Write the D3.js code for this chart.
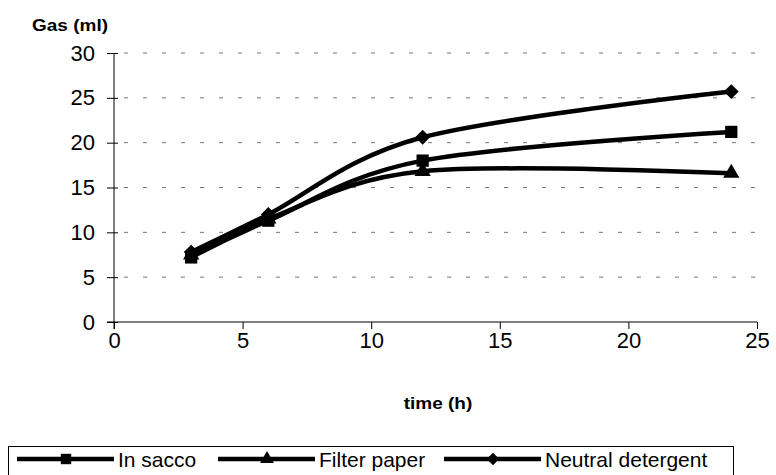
<!DOCTYPE html>
<html>
<head>
<meta charset="utf-8">
<script src="https://cdn.jsdelivr.net/npm/d3@7"></script>
<style>
  body { margin: 0; background: #fff; }
  svg { display: block; font-family: "Liberation Sans", Arial, sans-serif; }
</style>
</head>
<body>
<div id="graf"></div>
<script>
// Datos
const horas = [3, 6, 12, 24]
const inSacco = [7.2, 11.3, 18.0, 21.2]
const filterPaper = [7.5, 11.5, 16.8, 16.6]
const neutralDet = [7.8, 12.0, 20.6, 25.7]
const series = [
  { nombre: "In sacco", valores: inSacco, marca: "square" },
  { nombre: "Filter paper", valores: filterPaper, marca: "triangle" },
  { nombre: "Neutral detergent", valores: neutralDet, marca: "diamond" },
]
const xTicks = [0, 5, 10, 15, 20, 25]
const yTicks = [0, 5, 10, 15, 20, 25, 30]

const anchoTotal = 776
const altoTotal = 475

const svg = d3
  .select("#graf")
  .append("svg")
  .attr("width", anchoTotal)
  .attr("height", altoTotal)

// Escaladores
const x = d3.scaleLinear().domain([0, 25]).range([114, 757])
const y = d3.scaleLinear().domain([0, 30]).range([322, 53])

// Rejilla
svg
  .append("g")
  .selectAll("line")
  .data(yTicks.filter((d) => d > 0))
  .join("line")
  .attr("x1", x(0))
  .attr("x2", x(25))
  .attr("y1", (d) => y(d))
  .attr("y2", (d) => y(d))
  .attr("stroke", "#777")
  .attr("stroke-width", 1)
  .attr("stroke-dasharray", "4,15")
  .attr("transform", "translate(10,0)")

// Ejes
const yAxisGroup = svg
  .append("g")
  .attr("transform", `translate(${x(0)},0)`)
  .call(d3.axisLeft(y).tickValues(yTicks).tickSize(7).tickPadding(12))
yAxisGroup.select(".domain").attr("d", `M0,${y(30)}V${y(0) + 7}`)
yAxisGroup.selectAll(".tick line").attr("x1", 4)
yAxisGroup
  .selectAll(".tick text")
  .attr("font-size", 22)
  .attr("font-family", "Liberation Sans, Arial, sans-serif")

const xAxisGroup = svg
  .append("g")
  .attr("transform", `translate(0,${y(0)})`)
  .call(d3.axisBottom(x).tickValues(xTicks).tickSize(7).tickPadding(3))
xAxisGroup.select(".domain").attr("d", `M${x(0) - 7},0H${x(25)}`)
xAxisGroup
  .selectAll(".tick text")
  .attr("font-size", 22)
  .attr("font-family", "Liberation Sans, Arial, sans-serif")
svg.selectAll(".domain, .tick line").attr("stroke", "#000")

// Titulos de ejes
svg
  .append("text")
  .attr("transform", "translate(32,31) scale(1,0.85)")
  .attr("font-size", 19)
  .attr("font-weight", "bold")
  .text("Gas (ml)")
svg
  .append("text")
  .attr("transform", "translate(438,409) scale(1,0.85)")
  .attr("text-anchor", "middle")
  .attr("font-size", 19)
  .attr("font-weight", "bold")
  .text("time (h)")

// Marcas
const simbolo = {
  square: () => d3.symbol().type(d3.symbolSquare).size(150)(),
  triangle: () => d3.symbol().type(d3.symbolTriangle).size(115)(),
  diamond: () => d3.symbol().type(d3.symbolSquare).size(110)(),
}
const giro = { square: 0, triangle: 0, diamond: 45 }

const linea = d3
  .line()
  .x((d) => x(d[0]))
  .y((d) => y(d[1]))
  .curve(d3.curveCardinal.tension(0))

series.forEach((s) => {
  const pts = horas.map((h, i) => [h, s.valores[i]])
  svg
    .append("path")
    .attr("d", linea(pts))
    .attr("fill", "none")
    .attr("stroke", "#000")
    .attr("stroke-width", 4.5)
    .attr("stroke-linejoin", "round")
  svg
    .append("g")
    .selectAll("path")
    .data(pts)
    .join("path")
    .attr("d", simbolo[s.marca]())
    .attr(
      "transform",
      (d) => `translate(${x(d[0])},${y(d[1])}) rotate(${giro[s.marca]})`
    )
    .attr("fill", "#000")
})

// Leyenda
const leyenda = svg.append("g")
leyenda
  .append("rect")
  .attr("x", 8.5)
  .attr("y", 446.5)
  .attr("width", 725)
  .attr("height", 40)
  .attr("fill", "#fff")
  .attr("stroke", "#000")
const posLeyenda = [17, 218, 444]
series.forEach((s, i) => {
  const x0 = posLeyenda[i]
  const g = leyenda.append("g").attr("transform", `translate(${x0},459)`)
  g.append("line")
    .attr("x1", 0)
    .attr("x2", 97)
    .attr("stroke", "#000")
    .attr("stroke-width", 4.5)
  g.append("path")
    .attr("d", simbolo[s.marca]())
    .attr("transform", `translate(49,0) rotate(${giro[s.marca]}) scale(0.85)`)
  g.append("text")
    .attr("x", 101)
    .attr("y", 8)
    .attr("font-size", 21)
    .text(s.nombre)
})
</script>
</body>
</html>
